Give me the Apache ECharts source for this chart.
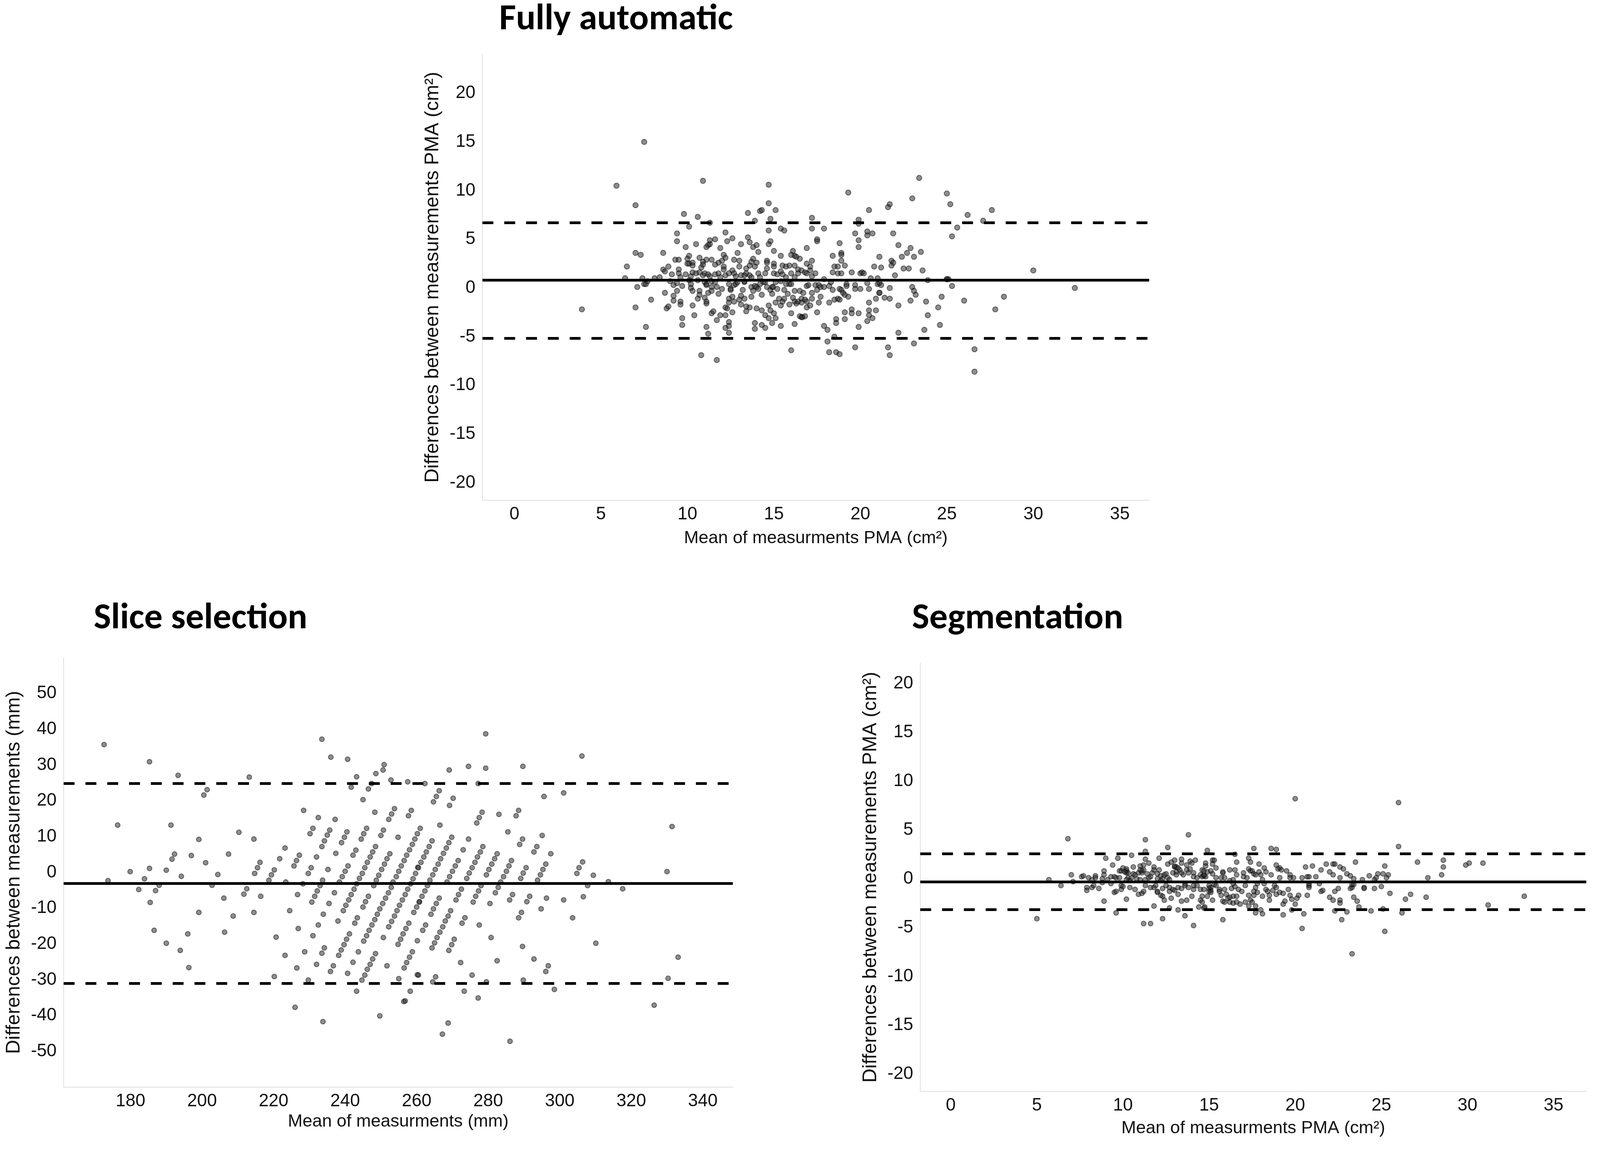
<!DOCTYPE html>
<html>
<head>
<meta charset="utf-8">
<title>Bland-Altman plots</title>
<script src="https://cdn.jsdelivr.net/npm/echarts@6.0.0/dist/echarts.min.js"></script>
<style>
  html, body { margin: 0; padding: 0; background: #fff; overflow: hidden; }
  #chart { width: 100vw; height: 100vh; }
</style>
</head>
<body>
<div id="chart"></div>
<script>
// ---- Fully automatic: [mean PMA, difference PMA] (cm²)
const autoPoints = [
  [5.9,10.5],[10.9,11.0],[14.7,10.6],[19.3,9.8],[7.0,8.5],[14.7,8.7],[14.2,7.9],[14.3,8.0],[15.1,8.0],[13.5,7.7],
  [9.8,7.6],[10.6,7.3],[13.9,6.9],[14.8,7.1],[17.2,7.2],[19.9,7.0],[19.9,6.6],[11.3,6.7],[10.1,6.3],[14.7,5.9],
  [15.4,6.1],[15.6,5.9],[17.2,6.1],[17.9,6.1],[9.4,5.6],[12.2,5.7],[19.7,5.6],[9.4,4.8],[11.3,4.9],[11.3,4.5],
  [11.2,4.4],[11.6,5.0],[12.3,4.8],[12.6,5.1],[13.5,5.2],[13.6,4.7],[14.8,4.8],[14.7,4.5],[17.5,5.0],[17.5,4.8],
  [19.9,4.9],[19.9,4.2],[18.8,4.6],[10.5,4.5],[9.9,4.2],[11.1,4.2],[11.9,4.1],[13.1,4.5],[13.8,4.2],[14.0,4.4],
  [16.9,4.1],[7.0,3.6],[7.3,3.4],[8.6,3.6],[12.9,3.6],[14.1,3.7],[15.0,3.8],[16.1,3.8],[16.0,3.4],[16.2,3.3],
  [16.3,3.2],[16.5,3.0],[15.4,3.3],[18.4,3.3],[18.9,3.6],[18.9,3.4],[18.9,2.8],[19.1,2.3],[6.5,2.2],[8.9,2.2],
  [8.6,1.9],[8.7,1.7],[9.3,2.9],[9.5,2.9],[9.5,1.9],[10.1,3.3],[10.0,3.0],[10.0,2.5],[10.1,2.5],[10.3,2.6],
  [10.3,2.3],[10.7,3.1],[10.9,2.7],[10.9,2.4],[11.1,2.9],[11.4,2.9],[10.8,2.1],[12.1,3.4],[12.2,3.1],[11.8,2.6],
  [12.0,2.8],[11.6,2.4],[12.1,2.2],[12.1,1.9],[12.7,2.9],[13.0,2.8],[13.0,2.2],[13.4,2.0],[13.6,2.3],[13.8,3.0],
  [13.7,2.7],[14.0,2.6],[13.9,2.2],[14.6,2.8],[14.6,2.6],[14.6,2.0],[15.0,2.5],[15.0,2.2],[15.5,2.3],[15.7,2.2],
  [15.9,2.3],[16.2,2.3],[16.4,1.9],[16.6,1.8],[16.9,2.5],[17.2,2.8],[17.1,2.2],[17.1,1.8],[18.5,2.2],[18.7,2.2],
  [19.5,1.6],[18.4,1.6],[18.7,1.5],[18.9,1.5],
  [8.4,1.1],[9.1,1.4],[9.5,1.5],[9.6,1.1],[9.9,1.4],[10.2,1.2],[10.3,1.6],[10.5,1.5],[10.7,1.6],[10.9,1.3],
  [11.0,1.5],[11.2,1.4],[11.3,1.2],[11.6,1.4],[11.8,1.5],[11.9,1.1],[12.2,1.3],[12.4,1.5],[12.6,1.8],[12.7,1.5],
  [12.8,1.2],[13.1,1.3],[13.3,1.3],[13.4,1.5],[13.6,1.3],[13.7,1.1],[14.1,1.5],[14.2,1.1],[14.5,1.5],[15.0,1.5],
  [15.2,1.4],[15.4,1.7],[15.5,1.4],[15.7,1.1],[16.0,1.5],[16.2,1.1],[16.4,1.5],[16.8,1.6],[16.9,1.5],[17.2,1.2],
  [17.4,1.5],[17.9,0.9],[20.0,1.5],[6.4,1.0],[7.4,1.0],[8.1,1.0],
  [23.4,11.3],[25.0,9.7],[23.0,9.2],[25.2,8.6],[21.7,8.6],[21.6,8.3],[20.5,8.0],[27.6,8.0],[26.2,7.5],[27.1,6.9],
  [25.6,6.2],[25.3,5.3],[20.4,5.8],[20.4,5.4],[20.7,5.6],[21.9,5.6],[22.2,4.4],[22.9,4.1],[23.5,3.7],[22.7,3.6],
  [23.1,3.2],[22.4,3.2],[21.1,3.2],[21.8,2.8],[21.9,2.6],[21.8,2.3],[20.8,2.2],[21.2,2.1],[22.5,2.0],[22.8,2.0],
  [23.6,1.8],[30.0,1.8],[20.1,1.6],[20.2,1.5],[22.0,1.3],[20.6,1.0],[21.0,1.0],[25.0,0.9],[25.1,0.9],
  [7.1,0.1],[7.5,0.4],[7.6,0.4],[7.7,0.7],[9.0,0.7],[9.2,0.3],[9.4,0.5],[9.7,0.2],[10.1,0.8],[10.2,0.4],
  [10.2,0.0],[10.6,0.8],[11.0,0.6],[11.1,0.4],[11.1,0.3],[11.4,0.7],[11.4,0.1],[11.6,0.6],[11.7,0.1],[12.0,-0.1],
  [12.4,0.4],[12.5,-0.1],[12.5,-0.2],[12.7,0.3],[12.8,0.4],[12.9,0.6],[13.2,-0.2],[13.3,0.6],[13.3,0.7],[13.7,0.1],
  [13.8,-0.3],[13.9,0.2],[14.0,0.1],[14.1,-0.1],[14.2,0.4],[14.4,0.6],[14.5,0.6],[14.6,0.1],[14.8,-0.2],[14.9,0.1],
  [14.95,0.1],[15.1,0.6],[15.2,-0.1],[15.4,0.7],[15.6,-0.2],[15.7,0.4],[15.9,0.4],[16.0,0.4],[16.2,-0.3],[16.5,-0.3],
  [16.7,-0.5],[16.9,0.2],[17.0,0.3],[17.2,-0.5],[17.4,0.3],[17.5,-0.2],[17.6,0.3],[17.7,0.1],[17.9,0.1],[18.2,0.2],
  [18.3,0.6],[18.4,-0.2],[18.8,-0.1],[18.9,-0.2],[19.2,0.4],[19.2,0.2],[19.7,0.3],[19.7,-0.1],[20.0,-0.1],[20.4,0.5],
  [20.5,-0.1],[21.0,0.4],[21.1,-0.5],
  [8.7,-0.5],[9.2,-0.8],[9.4,-0.3],[7.9,-1.2],[7.0,-2.0],[8.8,-2.1],[8.9,-1.9],[9.2,-1.3],[9.6,-1.4],[9.6,-1.7],
  [10.3,-1.8],[10.3,-0.3],[10.7,-0.3],[10.6,-1.1],[10.7,-0.7],[11.0,-1.0],[11.1,-1.6],[11.1,-1.4],[11.2,-0.5],[11.4,-0.3],
  [11.8,-0.6],[12.2,-2.0],[12.3,-2.1],[12.4,-1.1],[12.4,-1.5],[12.6,-0.9],[12.7,-1.4],[13.0,-1.2],[13.1,-1.7],[13.1,-0.8],
  [13.3,-1.1],[13.4,-1.9],[13.6,-2.0],[13.7,-0.9],[14.0,-2.1],[14.3,-0.7],[14.7,-1.8],[14.9,-0.6],[15.1,-1.5],[15.3,-1.1],
  [15.4,-1.8],[15.5,-1.4],[15.6,-1.1],[15.8,-0.6],[15.9,-1.7],[16.1,-1.0],[16.2,-1.4],[16.3,-1.6],[16.4,-1.4],[16.6,-1.1],
  [16.6,-1.5],[16.8,-1.2],[16.9,-2.0],[16.9,-1.4],[17.1,-1.8],[17.2,-1.1],[17.6,-1.5],[17.7,-0.9],[18.2,-1.5],[18.5,-1.2],
  [18.7,-1.1],[18.8,-1.2],[19.0,-0.5],[19.1,-0.7],[19.3,-0.9],[19.5,-2.2],[20.5,-1.5],[20.9,-1.1],
  [10.4,-2.8],[9.7,-3.1],[9.7,-3.8],[7.6,-4.0],[11.1,-4.0],[11.2,-4.7],[11.4,-2.6],[11.5,-2.4],[11.7,-3.3],[11.9,-2.8],
  [12.2,-2.8],[12.2,-4.1],[12.4,-3.5],[12.4,-3.9],[12.4,-4.6],[12.6,-2.5],[13.4,-2.4],[13.9,-3.6],[13.9,-4.2],[14.3,-2.3],
  [14.3,-3.8],[14.5,-2.8],[14.5,-4.1],[14.7,-3.1],[14.8,-2.3],[14.9,-3.6],[15.0,-2.6],[15.1,-3.1],[15.4,-3.9],[16.0,-2.6],
  [16.2,-3.7],[16.5,-2.9],[16.6,-3.0],[16.65,-3.0],[16.8,-2.9],[17.5,-2.5],[17.9,-3.9],[18.1,-4.3],[18.6,-3.2],[18.6,-3.6],
  [19.1,-2.5],[19.1,-3.2],[19.5,-2.6],[19.9,-2.6],[19.9,-4.0],[20.4,-3.4],[20.5,-2.8],[20.7,-3.1],[20.9,-2.3],[20.5,-2.3],
  [18.1,-5.5],[18.5,-5.0],[16.0,-6.4],[18.2,-6.6],[18.6,-6.6],[18.8,-6.8],[19.7,-6.1],[10.8,-6.9],[11.7,-7.4],
  [21.1,0.5],[21.2,0.3],[21.7,0.0],[21.1,-0.5],[21.4,-1.0],[21.7,-1.1],[22.2,-1.8],[23.0,0.1],[23.1,-0.3],[23.2,-0.7],
  [22.9,-1.3],[23.8,-1.4],[23.9,-2.8],[23.7,-4.3],[22.2,-4.6],[24.5,-2.0],[24.7,-0.9],[24.6,-3.8],[25.3,0.2],[26.0,-1.3],
  [27.8,-2.2],[28.3,-0.9],[32.4,0.0],[23.9,0.8],[25.0,0.9],[21.6,-6.1],[21.7,-6.9],[23.1,-5.7],[26.6,-6.3],[26.6,-8.6],
  [3.9,-2.2],[7.5,15.0]
];
const autoBias = 0.8;
const autoUpper = 6.7;
const autoLower = -5.15;

// ---- Slice selection: [mean, difference] (mm)
const slicePoints = [
  [243.2,26.7],[252.8,25.8],[257.5,25.3],[241.7,23.8],[246.5,23.3],[247.4,24.8],[245.0,20.3],[228.4,17.3],[248.3,16.8],[253.8,17.8],
  [253.0,16.3],[252.2,14.8],[258.5,17.3],[257.7,15.8],[232.5,15.3],[237.2,14.8],[231.0,12.3],[230.2,10.8],[235.7,11.8],[235.0,10.4],
  [234.2,8.8],[233.5,7.2],[240.5,11.3],[239.8,9.8],[239.0,8.3],[246.0,12.3],[245.2,10.8],[244.5,9.3],[250.7,11.8],[250.0,10.3],
  [254.8,9.8],[260.2,10.8],[259.5,9.3],[258.8,7.8],[258.0,6.3],[257.2,4.8],[256.5,3.3],[255.7,1.8],[255.0,0.3],[254.3,-1.2],
  [253.4,-2.7],[260.3,1.4],[259.7,-0.3],[259.0,-1.8],[258.3,-3.2],[257.5,-4.7],[256.8,-6.2],[256.0,-7.7],[255.2,-9.2],[254.5,-10.7],
  [253.8,-12.2],[253.0,-13.7],[252.2,-15.2],[260.8,-8.2],[260.0,-9.7],[259.2,-11.2],[257.8,-14.2],[257.0,-15.7],[256.2,-17.2],[255.5,-18.7],
  [254.8,-20.1],[260.2,-19.1],[258.8,-22.2],[258.0,-23.7],[257.2,-25.2],[256.5,-26.7],[260.2,-28.6],[255.0,-29.7],[258.2,-33.2],[256.8,-35.9],
  [251.7,-26.1],[250.7,-18.2],[248.5,7.2],[247.7,5.7],[247.0,4.3],[246.2,2.8],[245.5,1.3],[244.8,-0.3],[244.0,-1.7],[243.2,-3.2],
  [242.5,-4.7],[241.7,-6.2],[241.0,-7.7],[240.2,-9.2],[239.5,-10.7],[243.0,6.2],[242.2,4.8],[252.5,5.2],[251.7,3.8],[251.0,2.3],
  [250.2,0.8],[249.4,-0.8],[248.7,-2.2],[248.0,-3.7],[252.9,-4.2],[252.1,-5.7],[251.3,-7.2],[250.5,-8.7],[249.7,-10.2],[249.0,-11.7],
  [248.3,-13.2],[247.5,-14.7],[246.7,-16.2],[246.0,-17.7],[245.2,-19.2],[240.8,1.8],[240.0,0.3],[239.2,-1.2],[238.4,-2.7],[246.5,-6.7],
  [245.7,-8.2],[245.0,-9.7],[243.4,-12.7],[242.7,-14.2],[241.2,-17.2],[240.4,-18.7],[239.7,-20.2],[238.9,-21.7],[238.2,-23.2],[248.5,-22.7],
  [247.7,-24.2],[247.0,-25.7],[246.2,-27.1],[245.5,-28.7],[244.7,-30.1],[243.2,-33.2],[243.7,-22.2],[242.2,-25.1],[240.7,-28.2],[236.7,-26.1],
  [235.9,-27.7],[234.2,-21.1],[233.5,-22.6],[232.0,-25.7],[228.7,-22.2],[226.5,-26.7],[223.2,-23.2],[220.2,-29.1],[229.7,-30.1],[220.7,-18.1],
  [231.0,-17.7],[226.9,-15.7],[232.5,-14.7],[238.0,-13.6],[233.9,-11.7],[224.5,-10.7],[214.5,-11.2],[235.5,-8.7],[237.0,-5.7],[230.7,-8.3],
  [231.5,-6.7],[232.2,-5.2],[233.0,-3.7],[233.7,-2.2],[226.7,-6.2],[216.4,-6.7],[228.2,-3.2],[223.4,-2.7],[218.7,-2.2],[219.4,-0.7],
  [220.2,0.7],[214.7,-0.3],[215.5,1.3],[216.2,2.8],[221.7,3.8],[223.2,6.8],[225.7,1.8],[226.4,3.3],[227.2,4.8],[229.7,-0.3],
  [230.5,1.3],[232.0,4.3],[235.2,0.8],[237.4,5.3],[214.5,9.3],
  [262.3,24.8],[277.2,24.8],[266.3,22.8],[265.5,21.2],[264.7,19.7],[270.2,20.7],[269.2,18.7],[295.6,21.2],[301.1,22.2],[278.3,16.8],
  [277.5,15.3],[276.8,13.8],[283.0,16.2],[288.5,17.3],[287.8,15.8],[266.5,13.2],[261.0,12.3],[285.5,11.3],[269.8,9.8],[269.0,8.3],
  [268.3,6.8],[267.5,5.3],[266.7,3.8],[266.0,2.3],[265.2,0.8],[264.5,-0.7],[263.7,-2.2],[263.0,-3.7],[262.3,-5.2],[261.5,-6.7],
  [260.7,-8.3],[264.3,8.8],[263.5,7.2],[262.7,5.7],[262.0,4.3],[261.2,2.8],[260.5,1.3],[274.5,9.3],[273.0,6.3],[271.6,3.3],
  [270.8,1.8],[270.0,0.3],[269.2,-1.2],[268.5,-2.7],[278.5,7.2],[277.8,5.7],[277.0,4.3],[276.3,2.8],[275.5,1.3],[274.7,-0.2],
  [274.0,-1.7],[282.5,5.2],[281.8,3.8],[281.0,2.3],[280.2,0.8],[279.5,-0.7],[286.5,3.3],[285.8,1.8],[285.1,0.3],[284.3,-1.2],
  [283.5,-2.7],[282.8,-4.2],[282.0,-5.7],[289.6,9.3],[288.8,7.8],[295.1,10.3],[293.6,7.2],[292.8,5.7],[297.5,5.2],[290.6,1.3],
  [289.8,-0.2],[289.1,-1.7],[296.1,2.3],[295.3,0.8],[294.6,-0.7],[293.8,-2.2],[305.4,1.3],[304.8,-0.3],[278.0,-3.7],[277.3,-5.2],
  [276.5,-6.7],[275.8,-8.3],[272.5,-4.7],[271.7,-6.2],[271.0,-7.7],[266.3,-7.2],[265.5,-8.7],[264.7,-10.2],[264.0,-11.7],[269.5,-10.7],
  [268.8,-12.2],[268.0,-13.6],[267.3,-15.2],[266.5,-16.7],[265.7,-18.2],[265.0,-19.7],[264.3,-21.1],[262.5,-14.7],[261.7,-16.2],[273.5,-12.7],
  [272.7,-14.2],[270.5,-18.7],[269.8,-20.2],[269.0,-21.8],[280.5,-8.7],[277.5,-14.7],[280.8,-18.2],[286.8,-6.2],[286.0,-7.7],[291.6,-6.7],
  [290.8,-8.2],[289.3,-11.2],[288.5,-12.7],[296.3,-7.2],[294.8,-10.2],[301.1,-7.7],[303.6,-12.7],[289.6,-20.7],[282.5,-24.7],[292.8,-24.2],
  [296.8,-26.1],[296.1,-27.7],[272.3,-25.2],[260.5,-28.7],[265.3,-29.2],[264.5,-30.6],[275.5,-28.7],[279.5,-30.6],[289.8,-30.1],[273.3,-33.2],
  [277.2,-35.1],[298.5,-32.7],
  [172.6,35.7],[173.7,-2.3],[176.4,13.2],[179.9,0.2],[182.3,-4.8],[183.9,-1.8],[185.3,30.9],[185.3,1.1],[185.5,-8.4],[186.6,-16.2],
  [187.0,-5.1],[188.0,-3.6],[190.0,0.6],[190.0,-19.8],[191.6,3.7],[191.3,13.2],[192.3,5.1],[193.3,27.1],[193.9,-21.8],[194.2,-1.1],
  [196.0,-17.2],[196.3,-26.6],[197.0,4.7],[199.1,-11.2],[199.1,9.2],[201.0,2.7],[200.5,21.6],[201.4,23.1],[202.8,-3.6],[204.4,-0.6],
  [206.1,-7.2],[206.3,-16.7],[207.4,5.1],[208.7,-12.2],[210.3,11.2],[211.7,-6.1],[212.5,-4.6],[213.2,26.6],
  [306.4,2.9],[306.2,32.5],[306.6,-6.8],[307.8,-3.7],[309.4,-0.8],[310.1,-19.8],[313.6,-2.6],[317.6,-4.6],[326.4,-37.1],[330.0,0.2],
  [330.3,-29.6],[331.4,12.8],[333.1,-23.7],
  [233.5,37.2],[236.0,32.2],[240.7,31.6],[248.6,27.6],[250.9,30.1],[250.6,28.6],[274.5,29.6],[269.1,28.6],[279.3,38.7],[279.3,29.1],
  [289.7,29.6],[226.0,-37.7],[233.8,-41.7],[249.7,-40.1],[256.4,-36.1],[268.8,-42.1],[267.2,-45.2],[286.1,-47.2]
];
const sliceBias = -3.1;
const sliceUpper = 24.8;
const sliceLower = -31.0;

// ---- Segmentation: [mean PMA, difference PMA] (cm²)
const segPoints = [
  [6.8,4.1],[11.3,4.0],[12.6,3.2],[11.3,2.8],[14.9,2.9],[16.5,2.5],[9.0,2.1],[9.7,2.1],[10.5,2.4],[11.3,2.0],
  [12.1,2.1],[9.4,1.4],[11.5,1.6],[12.6,1.5],[12.8,1.7],[13.0,1.9],[13.4,2.0],[13.4,1.6],[13.9,1.8],[14.0,1.6],
  [14.2,1.9],[14.8,1.6],[14.8,1.3],[15.2,1.9],[15.3,1.9],[15.2,1.5],[15.4,1.1],[16.6,1.7],[16.2,0.9],[16.5,0.9],
  [16.6,0.4],[7.0,0.4],[7.1,-0.3],[7.6,0.2],[7.7,0.3],[8.0,0.1],[8.2,-0.1],[8.4,0.3],[8.4,0.1],[8.9,0.8],
  [8.9,0.4],[8.8,0.0],[8.8,-0.4],[9.1,-0.1],[9.3,-0.5],[9.3,0.2],[9.5,0.2],[9.6,0.1],[9.8,0.8],[9.9,0.8],
  [10.0,1.1],[9.8,0.1],[10.2,1.0],[10.2,0.6],[10.3,0.1],[10.2,-0.1],[10.4,-0.2],[10.5,0.1],[10.6,0.5],[10.7,0.4],
  [10.6,1.2],[11.0,1.3],[11.2,1.4],[10.9,0.6],[11.1,0.6],[11.2,0.9],[11.4,0.5],[11.6,0.2],[10.8,0.0],[11.0,-0.1],
  [11.3,-0.1],[11.5,0.1],[11.7,0.6],[11.8,1.2],[11.8,0.9],[12.0,0.5],[12.1,0.9],[12.2,0.3],[12.4,0.4],[12.5,0.5],
  [12.0,0.0],[12.2,-0.2],[12.3,0.0],[12.6,0.1],[12.7,-0.1],[13.0,1.2],[13.1,1.2],[13.1,0.7],[12.9,0.6],[13.1,0.4],
  [13.3,0.9],[13.4,0.6],[13.5,0.4],[13.7,1.4],[13.7,0.9],[13.8,0.6],[13.9,1.0],[14.1,0.6],[14.1,0.2],[14.3,0.1],
  [14.5,0.4],[14.6,0.2],[14.7,0.3],[14.8,0.2],[14.6,0.9],[14.7,0.8],[14.9,0.7],[15.1,0.8],[15.2,0.5],[15.4,0.1],
  [15.7,0.1],[15.8,0.6],[15.9,0.1],[16.2,-0.2],[16.4,-0.1],
  [10.2,0.8],[10.3,0.6],[10.1,0.7],[11.0,0.9],[11.1,0.8],[13.0,1.3],[13.2,1.1],[14.7,0.35],[15.1,-0.9],[15.1,-1.2],[15.8,0.7],
  [7.9,-0.9],[7.9,-1.2],[8.2,-0.9],[8.3,-0.7],[8.6,-1.0],[9.5,-1.4],[9.6,-1.3],[9.9,-0.7],[9.9,-1.1],[10.0,-0.8],
  [10.4,-0.9],[10.7,-1.1],[10.9,-1.6],[11.1,-1.5],[11.2,-1.3],[11.3,-0.7],[11.6,-0.9],[11.8,-0.9],[11.9,-0.7],[12.0,-1.3],
  [12.0,-1.4],[12.2,-1.7],[12.3,-1.8],[12.3,-1.0],[12.4,-2.2],[12.5,-0.7],[12.7,-0.9],[12.7,-1.3],[12.9,-1.1],[13.0,-1.2],
  [13.2,-1.6],[13.2,-0.9],[13.4,-1.0],[12.8,-2.0],[13.6,-0.5],[13.6,-0.7],[13.8,-0.9],[14.1,-1.1],[14.1,-0.7],[14.0,-1.8],
  [13.4,-2.3],[13.7,-2.2],[14.3,-0.7],[14.5,-1.1],[14.6,-1.8],[14.5,-2.2],[14.6,-2.4],[14.7,-1.1],[14.9,-1.8],[15.0,-0.7],
  [15.0,-1.0],[15.0,-1.3],[15.1,-1.4],[15.2,-2.2],[15.3,-0.6],[15.4,-0.7],[15.6,-1.1],[15.6,-1.3],[15.7,-1.7],[15.8,-2.3],
  [15.9,-2.4],[15.9,-1.1],[16.0,-1.6],[16.1,-2.0],[16.2,-2.4],[16.4,-1.8],[16.4,-2.5],[16.6,-2.4],[16.6,-1.8],[14.4,-2.9],
  [14.7,-3.0],[14.75,-2.9],[11.8,-2.8],[12.7,-3.0],[13.2,-3.2],[13.6,-3.8],[12.3,-4.1],[11.2,-4.6],[11.6,-4.6],[14.1,-4.8],
  [15.8,-4.2],[9.6,-3.5],[8.9,-2.3],[10.2,-2.1],
  [16.4,-0.5],[16.3,-1.0],[16.5,-0.8],[16.7,-1.1],[16.2,-1.9],[16.9,-1.3],[16.8,-2.6],
  [26.0,3.3],[17.6,3.1],[18.6,3.1],[18.9,3.0],[17.3,2.1],[17.4,1.7],[17.9,1.5],[18.9,1.4],[19.1,1.1],[19.0,1.0],
  [19.2,0.9],[18.2,1.1],[18.3,0.7],[19.5,0.8],[20.6,1.2],[21.0,1.3],[21.5,0.9],[21.8,1.5],[22.2,1.5],[22.3,1.5],
  [22.6,1.2],[22.8,1.0],[23.5,1.7],[25.2,1.3],[22.0,0.7],[22.2,0.4],[22.6,0.1],[23.0,0.5],[23.2,0.3],[23.4,0.0],
  [23.9,-0.1],[24.3,0.3],[24.6,-0.1],[24.7,0.1],[24.8,0.5],[25.1,0.5],[25.4,0.4],[25.3,0.1],[21.2,0.2],[20.4,0.1],
  [20.7,0.2],[20.8,0.2],[19.9,0.1],[19.7,0.4],[19.7,0.1],[18.6,0.4],
  [17.0,0.6],[17.0,0.2],[17.2,0.1],[17.1,-0.7],[17.3,1.0],[17.4,0.8],[17.5,0.8],[17.6,0.5],[17.7,0.4],[17.8,-0.5],
  [17.9,0.7],[18.0,0.4],[18.1,-0.1],[18.2,-0.5],[18.3,-1.1],[18.4,-1.3],[18.5,-1.7],[18.5,-2.2],[18.7,-1.2],[18.8,-0.7],
  [18.9,-0.9],[18.9,-1.6],[19.1,-1.4],[19.1,0.1],[19.3,-1.5],[17.7,-0.9],[17.6,-1.3],[17.8,-1.4],[17.3,-1.7],[17.6,-1.7],
  [17.4,-2.2],[17.1,-2.4],[17.3,-2.8],[17.5,-2.4],[17.7,-2.8],[17.7,-3.5],[18.0,-3.2],[18.1,-3.6],[18.1,-1.8],
  [19.6,-1.1],[19.7,-1.7],[19.8,-2.1],[20.0,-2.6],[20.1,-2.0],[20.2,-1.7],[19.3,-2.6],[19.4,-2.3],[19.3,-3.7],[19.8,-3.2],
  [20.5,-3.6],[20.4,-5.1],[20.7,-1.7],[20.8,-0.9],[20.8,-0.7],[20.8,-0.5],[21.4,-0.5],[21.5,-1.3],[21.6,-1.2],[22.0,-1.9],
  [22.2,-2.2],[22.3,-1.3],[22.5,-1.0],[22.6,-2.2],[22.6,-2.5],[22.3,-3.3],[22.7,-4.2],[23.0,-3.4],[23.2,-1.0],[23.3,-0.9],
  [23.3,-0.6],[23.4,-0.6],[23.4,-1.9],[23.6,-2.3],[23.7,-2.9],[24.0,-0.9],[24.0,-1.0],[24.4,-3.3],[24.6,-1.0],[25.0,-0.8],
  [25.1,-3.1],[25.5,-1.5],[25.2,-5.4],[26.2,-3.5],
  [5.0,-4.1],[5.7,-0.1],[6.4,-0.7],[26.0,7.8],[20.0,8.2],[27.1,1.7],[27.7,0.1],[26.7,-1.6],[26.4,-2.1],[27.6,-1.9],
  [28.5,0.4],[28.6,1.2],[28.6,1.9],[29.9,1.4],[30.1,1.6],[30.9,1.6],[31.2,-2.7],[33.3,-1.8],[23.3,-7.7],[13.8,4.5]
];
const segBias = -0.33;
const segUpper = 2.55;
const segLower = -3.17;

// 轴范围 (axis extents)
const areaX = [-1.85, 36.7];
const autoY = [-21.8, 24.0];
const sliceX = [161.3, 348.4];
const sliceY = [-60, 60];
const segX = [-1.77, 36.9];
const segY = [-21.8, 22.1];

const textFont = "'Liberation Sans', Arial, sans-serif";
const titleFont = "Carlito, Calibri, Lato, sans-serif";

// layout was measured on the 4550 x 2945 picture; map it onto the real viewport
const SX = window.innerWidth / 4550;
const SY = window.innerHeight / 2945;
const SM = Math.sqrt(SX * SY);
function hx(v) { return v * SX; }   // horizontal distances / horizontal text
function vy(v) { return v * SY; }   // vertical distances / rotated text

function valueAxis(gridIndex, range, splitNumber, name, extra) {
  return Object.assign({
    type: 'value',
    gridIndex: gridIndex,
    min: range[0],
    max: range[1],
    splitNumber: splitNumber,
    axisLine: { show: true, onZero: false, lineStyle: { color: '#dedede', width: 2 * SM } },
    axisTick: { show: false },
    splitLine: { show: false },
    axisLabel: {
      fontSize: 48 * SM, color: '#111', fontFamily: textFont,
      showMinLabel: false, showMaxLabel: false
    },
    name: name,
    nameLocation: 'middle'
  }, extra);
}

function xAxisOf(gridIndex, range, splitNumber, name, nameGap) {
  let axis = valueAxis(gridIndex, range, splitNumber, name, {
    nameGap: vy(nameGap),
    nameTextStyle: { fontSize: hx(50), color: '#111', fontFamily: textFont }
  });
  axis.axisLabel.margin = vy(13);
  return axis;
}

function yAxisOf(gridIndex, range, splitNumber, name, nameGap, interval) {
  let axis = valueAxis(gridIndex, range, splitNumber, name, {
    nameRotate: 90,
    nameGap: hx(nameGap),
    nameTextStyle: { fontSize: vy(50), color: '#111', fontFamily: textFont }
  });
  axis.axisLabel.margin = hx(20);
  if (interval) axis.interval = interval;
  return axis;
}

// 均值线和一致性界限 (bias and limits of agreement)
function limitLines(bias, upper, lower) {
  const solid = { type: 'solid', color: '#000', width: vy(7) };
  const dashed = { type: [hx(31), hx(31)], color: '#000', width: vy(7) };
  return {
    silent: true,
    symbol: ['none', 'none'],
    label: { show: false },
    animation: false,
    data: [
      { yAxis: bias, lineStyle: solid },
      { yAxis: upper, lineStyle: dashed },
      { yAxis: lower, lineStyle: dashed }
    ]
  };
}

function scatterSeries(index, data, size, bias, upper, lower) {
  return {
    type: 'scatter',
    xAxisIndex: index,
    yAxisIndex: index,
    data: data,
    symbolSize: size * SM,
    itemStyle: {
      color: 'rgba(40,40,40,0.66)',
      borderColor: 'rgba(0,0,0,0.58)',
      borderWidth: 2.5 * SM
    },
    markLine: limitLines(bias, upper, lower)
  };
}

function titleOf(text, left, top) {
  return {
    text: text, left: hx(left), top: vy(top),
    textStyle: { fontSize: hx(104), fontWeight: 'bold', color: '#000', fontFamily: titleFont }
  };
}

const chart = echarts.init(document.getElementById('chart'));

const option = {
  backgroundColor: '#fff',
  animation: false,
  title: [
    titleOf('Fully automatic', 1414, 0),
    titleOf('Slice selection', 261, 1534),
    titleOf('Segmentation', 2588, 1534)
  ],
  grid: [
    { left: hx(1372), top: vy(139), width: hx(1896), height: vy(1142) },
    { left: hx(181), top: vy(1684), width: hx(1903), height: vy(1100) },
    { left: hx(2617), top: vy(1698), width: hx(1894), height: vy(1097) }
  ],
  xAxis: [
    xAxisOf(0, areaX, 8, 'Mean of measurments PMA (cm²)', 75),
    xAxisOf(1, sliceX, 9, 'Mean of measurments (mm)', 66),
    xAxisOf(2, segX, 8, 'Mean of measurments PMA (cm²)', 72)
  ],
  yAxis: [
    yAxisOf(0, autoY, 9, 'Differences between measurements PMA (cm²)', 113),
    yAxisOf(1, sliceY, 12, 'Differences between measurements (mm)', 113, 10),
    yAxisOf(2, segY, 9, 'Differences between measurements PMA (cm²)', 113)
  ],
  series: [
    scatterSeries(0, autoPoints, 14, autoBias, autoUpper, autoLower),
    scatterSeries(1, slicePoints, 13, sliceBias, sliceUpper, sliceLower),
    scatterSeries(2, segPoints, 13, segBias, segUpper, segLower)
  ]
};

chart.setOption(option);
</script>
</body>
</html>
